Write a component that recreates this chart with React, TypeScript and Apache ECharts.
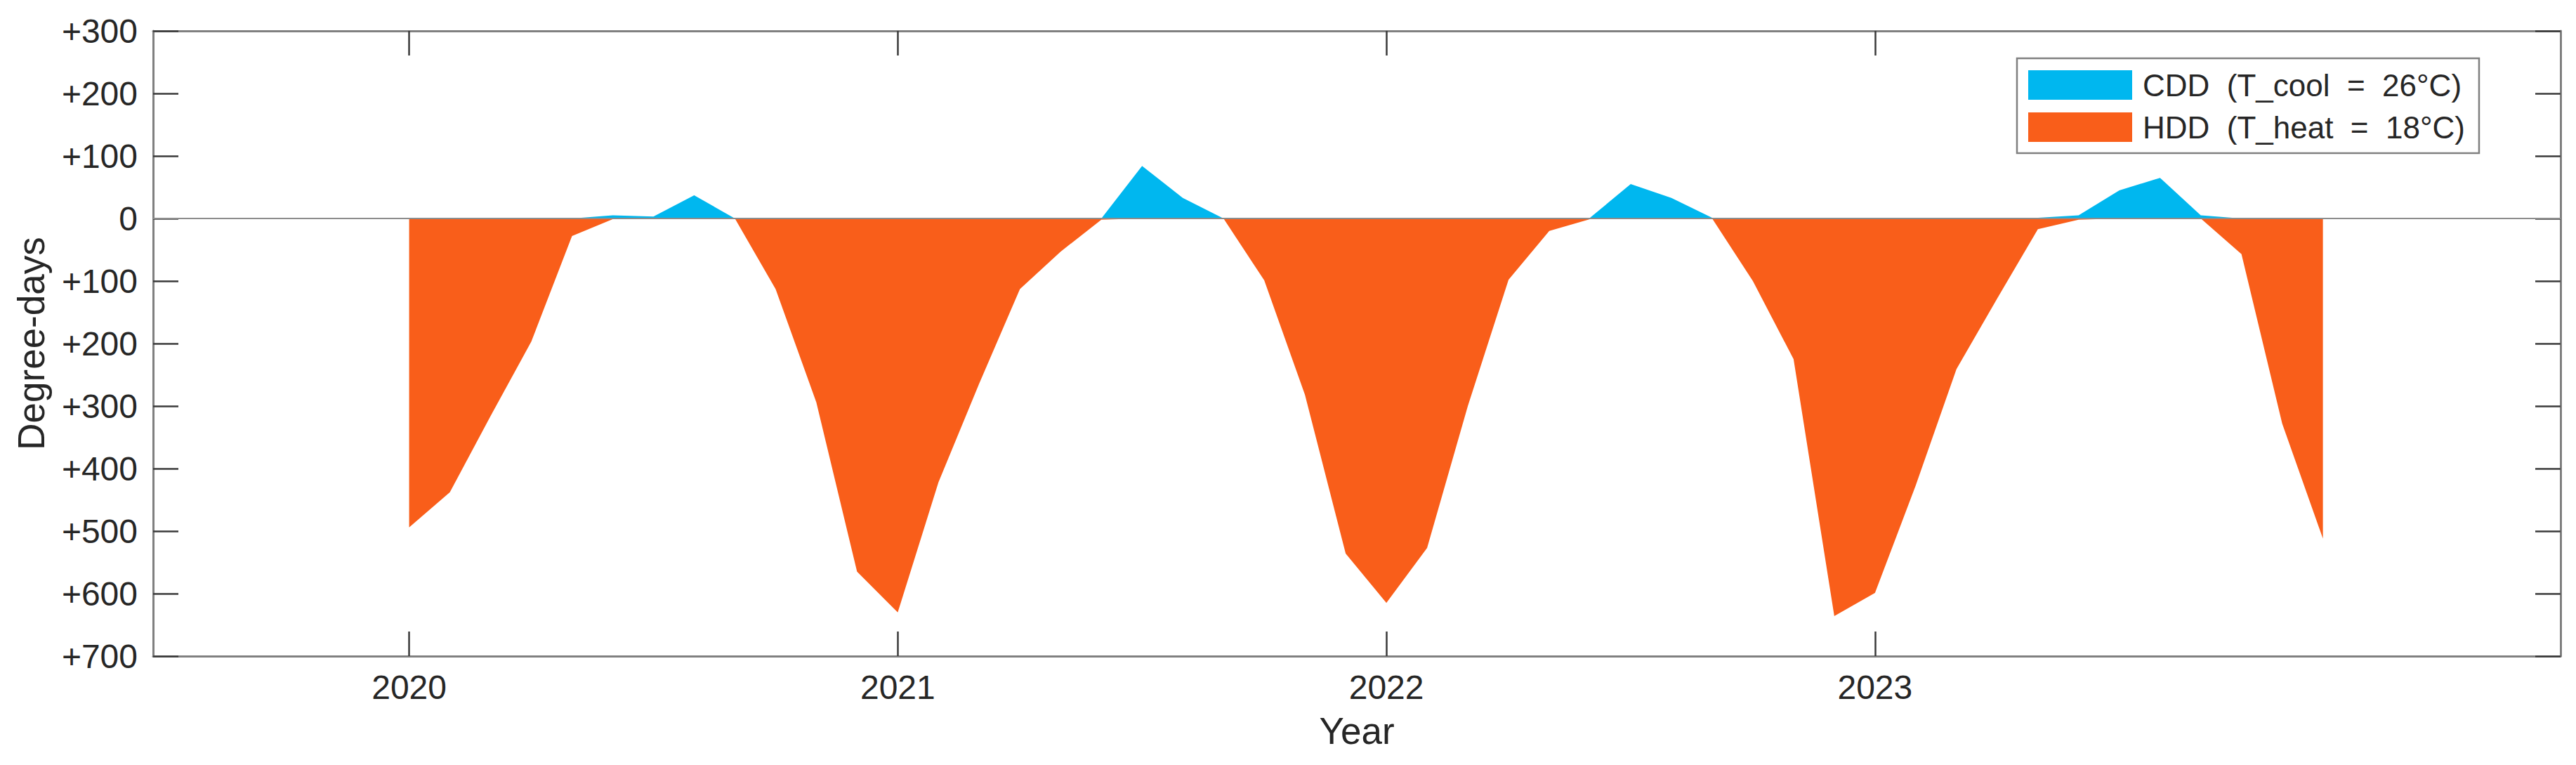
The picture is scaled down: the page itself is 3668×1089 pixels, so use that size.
import React, { useEffect, useRef } from "react";
import * as echarts from "echarts";

// Monthly degree-days, Jan 2020 .. Dec 2023
const startYear = 2020;
const yearTicks = [2020, 2021, 2022, 2023];
const cddValues = [
  0, 0, 0, 0, 0, 5, 3, 37, 0, 0, 0, 0,
  0, 0, 0, 0, 0, 0, 84, 33, 0, 0, 0, 0,
  0, 0, 0, 0, 0, 1, 55, 33, 1, 0, 0, 0,
  0, 0, 0, 0, 1, 5, 45, 65, 5, 0, 0, 0,
];
const hddValues = [
  494, 438, 316, 197, 28, 1, 0, 0, 0, 113, 294, 565,
  630, 422, 264, 113, 53, 2, 0, 0, 0, 99, 282, 536,
  615, 527, 300, 98, 20, 1, 0, 0, 0, 100, 225, 636,
  599, 427, 241, 128, 17, 2, 0, 0, 0, 57, 328, 512,
];
const seriesNames = ["CDD  (T_cool  =  26°C)", "HDD  (T_heat  =  18°C)"];
const seriesColors = ["#00B7EF", "#F95E1A"];

const FONT = "'Liberation Sans', Arial, Helvetica, sans-serif";
const TEXT = "#262626";
const AXIS = "#808080";
const TICK = "#3a3a3a";

export default function App() {
  const ref = useRef<HTMLDivElement>(null);

  useEffect(() => {
    if (!ref.current) return;
    const chart = echarts.init(ref.current, null, { renderer: "svg" });
    const xs = cddValues.map((_, i) => startYear + i / 12);
    const xMin = 2019.476;
    const xMax = 2024.403;

    const axisLine = { show: true, onZero: false, lineStyle: { color: AXIS, width: 3 } };
    const tickStyle = { color: TICK, width: 2.5 };

    chart.setOption({
      animation: false,
      backgroundColor: "#ffffff",
      textStyle: { fontFamily: FONT },
      grid: { left: 218, top: 44, width: 3428, height: 890, containLabel: false },
      legend: {
        orient: "vertical",
        left: 2872,
        top: 83,
        padding: [16, 20, 15, 16],
        itemWidth: 148,
        itemHeight: 42,
        itemGap: 16,
        icon: "rect",
        borderColor: AXIS,
        borderWidth: 2.5,
        backgroundColor: "#ffffff",
        textStyle: { fontSize: 44, color: TEXT, fontFamily: FONT, lineHeight: 42, padding: [0, 0, 0, 10] },
        data: seriesNames.map((n, i) => ({ name: n, itemStyle: { color: seriesColors[i], borderWidth: 0 } })),
      },
      xAxis: [
        {
          type: "value",
          position: "bottom",
          min: xMin,
          max: xMax,
          axisLine,
          axisTick: { show: true, inside: true, length: 35, customValues: yearTicks, lineStyle: tickStyle },
          axisLabel: {
            customValues: yearTicks,
            margin: 20,
            fontSize: 48,
            color: TEXT,
            fontFamily: FONT,
            formatter: (v: number) => String(Math.round(v)),
          },
          splitLine: { show: false },
          name: "Year",
          nameLocation: "middle",
          nameGap: 80,
          nameTextStyle: { fontSize: 53, color: TEXT, fontFamily: FONT },
        },
        {
          type: "value",
          position: "top",
          min: xMin,
          max: xMax,
          axisLine,
          axisTick: { show: true, inside: true, length: 35, customValues: yearTicks, lineStyle: tickStyle },
          axisLabel: { show: false },
          splitLine: { show: false },
        },
      ],
      yAxis: [
        {
          type: "value",
          position: "left",
          min: -700,
          max: 300,
          interval: 100,
          axisLine,
          axisTick: { show: true, inside: true, length: 36, lineStyle: tickStyle },
          axisLabel: {
            margin: 22,
            fontSize: 48,
            color: TEXT,
            fontFamily: FONT,
            formatter: (v: number) => (v === 0 ? "0" : "+" + Math.abs(v)),
          },
          splitLine: { show: false },
          name: "Degree-days",
          nameLocation: "middle",
          nameGap: 147,
          nameRotate: 90,
          nameTextStyle: { fontSize: 53, color: TEXT, fontFamily: FONT },
        },
        {
          type: "value",
          position: "right",
          min: -700,
          max: 300,
          interval: 100,
          axisLine,
          axisTick: { show: true, inside: true, length: 36, lineStyle: tickStyle },
          axisLabel: { show: false },
          splitLine: { show: false },
        },
      ],
      series: [
        {
          name: seriesNames[0],
          type: "line",
          xAxisIndex: 0,
          yAxisIndex: 0,
          data: xs.map((x, i) => [x, cddValues[i]]),
          symbol: "none",
          showSymbol: false,
          lineStyle: { width: 0, color: seriesColors[0] },
          itemStyle: { color: seriesColors[0] },
          areaStyle: { color: seriesColors[0], opacity: 1 },
          silent: true,
        },
        {
          name: seriesNames[1],
          type: "line",
          xAxisIndex: 0,
          yAxisIndex: 0,
          data: xs.map((x, i) => [x, -hddValues[i]]),
          symbol: "none",
          showSymbol: false,
          lineStyle: { width: 0, color: seriesColors[1] },
          itemStyle: { color: seriesColors[1] },
          areaStyle: { color: seriesColors[1], opacity: 1 },
          silent: true,
          markLine: {
            silent: true,
            symbol: ["none", "none"],
            label: { show: false },
            lineStyle: { color: "#8c8c8c", width: 2, type: "solid" },
            data: [{ yAxis: 0 }],
          },
        },
      ],
    });
    return () => chart.dispose();
  }, []);

  return (
    <div
      ref={ref}
      style={{ position: "fixed", left: 0, top: 0, width: 3668, height: 1089, background: "#fff" }}
    />
  );
}
